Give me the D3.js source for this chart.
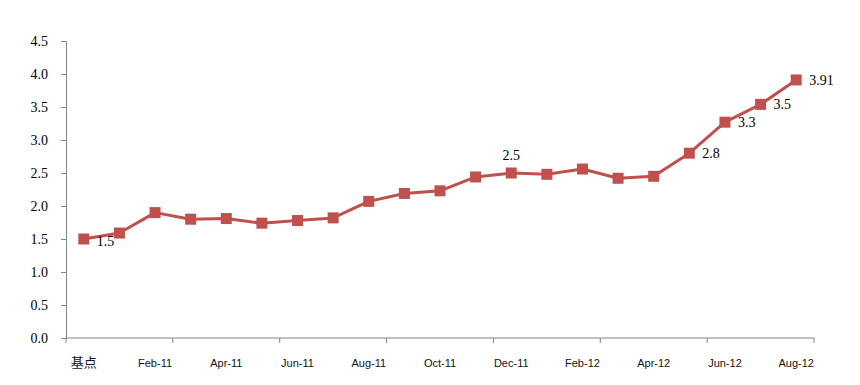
<!DOCTYPE html>
<html>
<head>
<meta charset="utf-8">
<script src="https://cdn.jsdelivr.net/npm/d3@7"></script>
<style>
  body { margin: 0; background: #fff; }
  .chart svg { display: block; }
</style>
</head>
<body>
<div class="chart"></div>
<script>
const svgWidth = 860;
const svgHeight = 385;

const margin = { top: 41, right: 46, bottom: 47, left: 66 };
const width = svgWidth - margin.left - margin.right;
const height = svgHeight - margin.top - margin.bottom;

// data
const categories = ["基点", "Jan-11", "Feb-11", "Mar-11", "Apr-11", "May-11", "Jun-11",
  "Jul-11", "Aug-11", "Sep-11", "Oct-11", "Nov-11", "Dec-11", "Jan-12", "Feb-12",
  "Mar-12", "Apr-12", "May-12", "Jun-12", "Jul-12", "Aug-12"];
const values = [1.5, 1.59, 1.9, 1.8, 1.81, 1.74, 1.78, 1.82, 2.07, 2.19, 2.23, 2.44,
  2.5, 2.48, 2.56, 2.42, 2.45, 2.8, 3.27, 3.54, 3.91];
const yTicks = [0, 0.5, 1, 1.5, 2, 2.5, 3, 3.5, 4, 4.5];
// labelled points: index and text shown
const labelIndex = [0, 12, 17, 18, 19, 20];
const labelText = ["1.5", "2.5", "2.8", "3.3", "3.5", "3.91"];

const red = "#c0504d";
const axisColor = "#868686";

const svg = d3.select(".chart")
  .append("svg")
  .attr("width", svgWidth)
  .attr("height", svgHeight);

const chartGroup = svg.append("g")
  .attr("transform", `translate(${margin.left}, ${margin.top})`);

// scales
const xScale = d3.scaleBand()
  .domain(categories)
  .range([0, width]);

const yScale = d3.scaleLinear()
  .domain([0, 4.5])
  .range([height, 0]);

const xc = d => xScale(d) + xScale.bandwidth() / 2;

// y axis
const yAxis = d3.axisLeft(yScale)
  .tickValues(yTicks)
  .tickFormat(d3.format(".1f"))
  .tickSize(5)
  .tickPadding(13);

const yG = chartGroup.append("g").call(yAxis);
yG.select(".domain").attr("stroke", axisColor);
yG.selectAll(".tick line").attr("stroke", axisColor);
yG.selectAll(".tick text")
  .attr("fill", "#000")
  .style("font-family", "'Liberation Serif', 'Times New Roman', serif")
  .style("font-size", "14px");

// x axis: tick marks every third category boundary, labels every second category
const boundaries = d3.range(0, categories.length + 1, 3).map(k => k * xScale.step());
const xG = chartGroup.append("g")
  .attr("transform", `translate(0, ${height})`);
xG.append("line")
  .attr("x1", 0).attr("x2", width)
  .attr("stroke", axisColor);
xG.selectAll("line.tk")
  .data(boundaries)
  .enter()
  .append("line")
  .attr("class", "tk")
  .attr("x1", d => d).attr("x2", d => d)
  .attr("y1", 0).attr("y2", 5)
  .attr("stroke", axisColor);
xG.selectAll("text")
  .data(categories.filter((d, i) => i % 2 === 0))
  .enter()
  .append("text")
  .attr("x", d => xc(d))
  .attr("y", 29)
  .attr("text-anchor", "middle")
  .style("font-family", "'Liberation Sans', Arial, 'Noto Sans CJK SC', sans-serif")
  .style("font-size", d => d === "基点" ? "13px" : "11px")
  .attr("fill", "#111")
  .text(d => d);

// line
const line = d3.line()
  .x((d, i) => xc(categories[i]))
  .y(d => yScale(d));

chartGroup.append("path")
  .attr("d", line(values))
  .attr("fill", "none")
  .attr("stroke", red)
  .attr("stroke-width", 3)
  .attr("stroke-linejoin", "round");

// markers
const ms = 11;
chartGroup.selectAll("rect.m")
  .data(values)
  .enter()
  .append("rect")
  .attr("class", "m")
  .attr("x", (d, i) => xc(categories[i]) - ms / 2)
  .attr("y", d => yScale(d) - ms / 2)
  .attr("width", ms)
  .attr("height", ms)
  .attr("fill", red);

// data labels
chartGroup.selectAll("text.lbl")
  .data(labelIndex)
  .enter()
  .append("text")
  .attr("class", "lbl")
  .attr("x", (d, i) => i === 1 ? xc(categories[d]) : xc(categories[d]) + 13)
  .attr("y", (d, i) => i === 1 ? yScale(values[d]) - 13 : yScale(values[d]) + (i === 0 ? 7 : 5))
  .attr("text-anchor", (d, i) => i === 1 ? "middle" : "start")
  .style("font-family", "'Liberation Serif', 'Times New Roman', serif")
  .style("font-size", "14px")
  .attr("fill", "#000")
  .text((d, i) => labelText[i]);
</script>
</body>
</html>
